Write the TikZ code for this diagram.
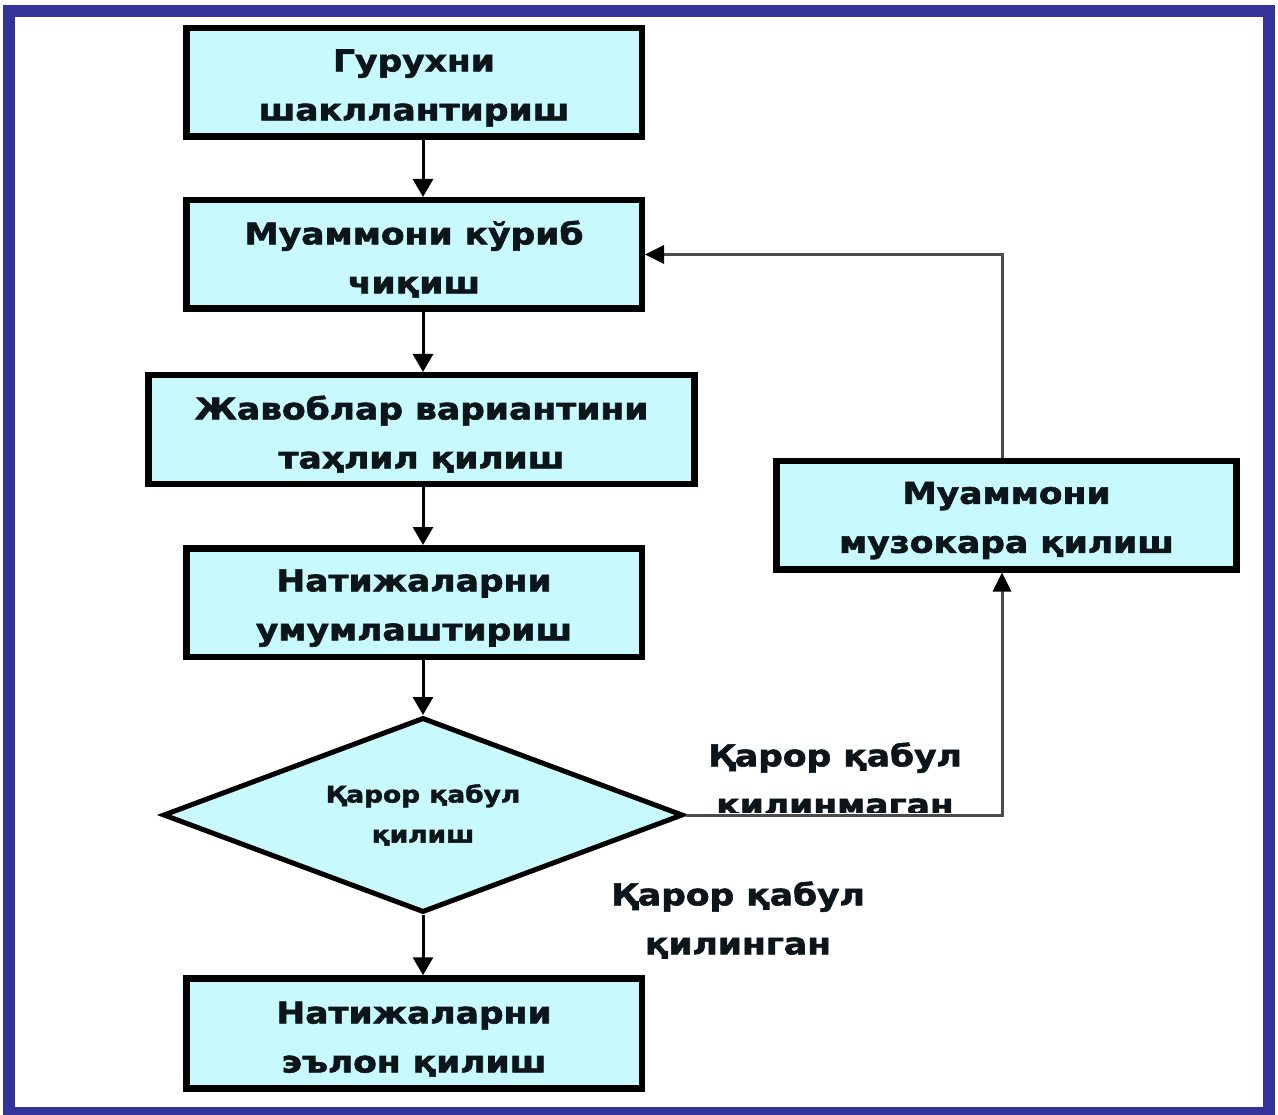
\documentclass[tikz,border=0pt]{standalone}
\usepackage{fontspec}
\setmainfont{DejaVu Sans}[FakeStretch=1.15,FakeBold=2]
\usetikzlibrary{shapes.geometric,arrows.meta}
\definecolor{frameblue}{RGB}{51,51,153}
\definecolor{boxfill}{RGB}{200,250,253}
\definecolor{txt}{RGB}{12,22,26}
\begin{document}
\begin{tikzpicture}[x=1pt,y=-1pt,
  box/.style={draw=black,line width=6.5pt,fill=boxfill,minimum width=#1,minimum height=108.5pt,
    inner sep=0pt,align=center,font=\fontsize{30}{49}\selectfont\bfseries,text=txt,
    text height=82pt},
  box/.default=455.5pt,
  dec/.style={diamond,draw=black,line width=5pt,fill=boxfill,minimum width=520pt,minimum height=195pt,
    aspect=2.6,inner sep=0pt,align=center,font=\fontsize{23}{40}\selectfont\bfseries,text=txt},
  lab/.style={align=center,font=\fontsize{30}{49}\selectfont\bfseries,text=txt},
  arr/.style={line width=3pt,draw=black,-{Triangle[length=18pt,width=20pt]}},
  fb/.style={line width=3pt,draw=black!70,-{Triangle[length=19pt,width=18pt,color=black]}}]
\useasboundingbox (0,0) rectangle (1278,1115);
\draw[frameblue,line width=12pt] (9,11) rectangle (1269,1113);

\node[box] (b1) at (414,82.5) {Гурухни\\шакллантириш};
\node[box] (b2) at (414,254.5) {Муаммони кўриб\\чиқиш};
\node[box=546pt] (b3) at (421.5,429.5) {Жавоблар вариантини\\таҳлил қилиш};
\node[box] (b4) at (414,602.5) {Натижаларни\\умумлаштириш};
\node[dec] (d) at (423,815) {Қарор қабул\\қилиш};
\node[box,minimum height=110pt] (b5) at (414,1033.5) {Натижаларни\\эълон қилиш};
\node[box=460pt] (b6) at (1006.5,515) {Муаммони\\музокара қилиш};
\coordinate (c) at (1002,815);

\begin{scope}
  \clip (690,700) rectangle (1000,812);
  \node[lab] (l1) at (835,781) {Қарор қабул\\қилинмаган};
\end{scope}
\node[lab] (l2) at (738,920) {Қарор қабул\\қилинган};

\draw[arr] (b1.south -| d.north) -- (b2.north -| d.north);
\draw[arr] (b2.south -| d.north) -- (b3.north -| d.north);
\draw[arr] (b3.south -| d.north) -- (b4.north -| d.north);
\draw[arr] (b4.south -| d.north) -- (d.north);
\draw[arr] (d.south) -- (b5.north -| d.south);

\draw[fb] (d.east) -- (c) -- (c |- b6.south);
\draw[fb] (c |- b6.north) -- (c |- b2.east) -- (b2.east);
\end{tikzpicture}
\end{document}
